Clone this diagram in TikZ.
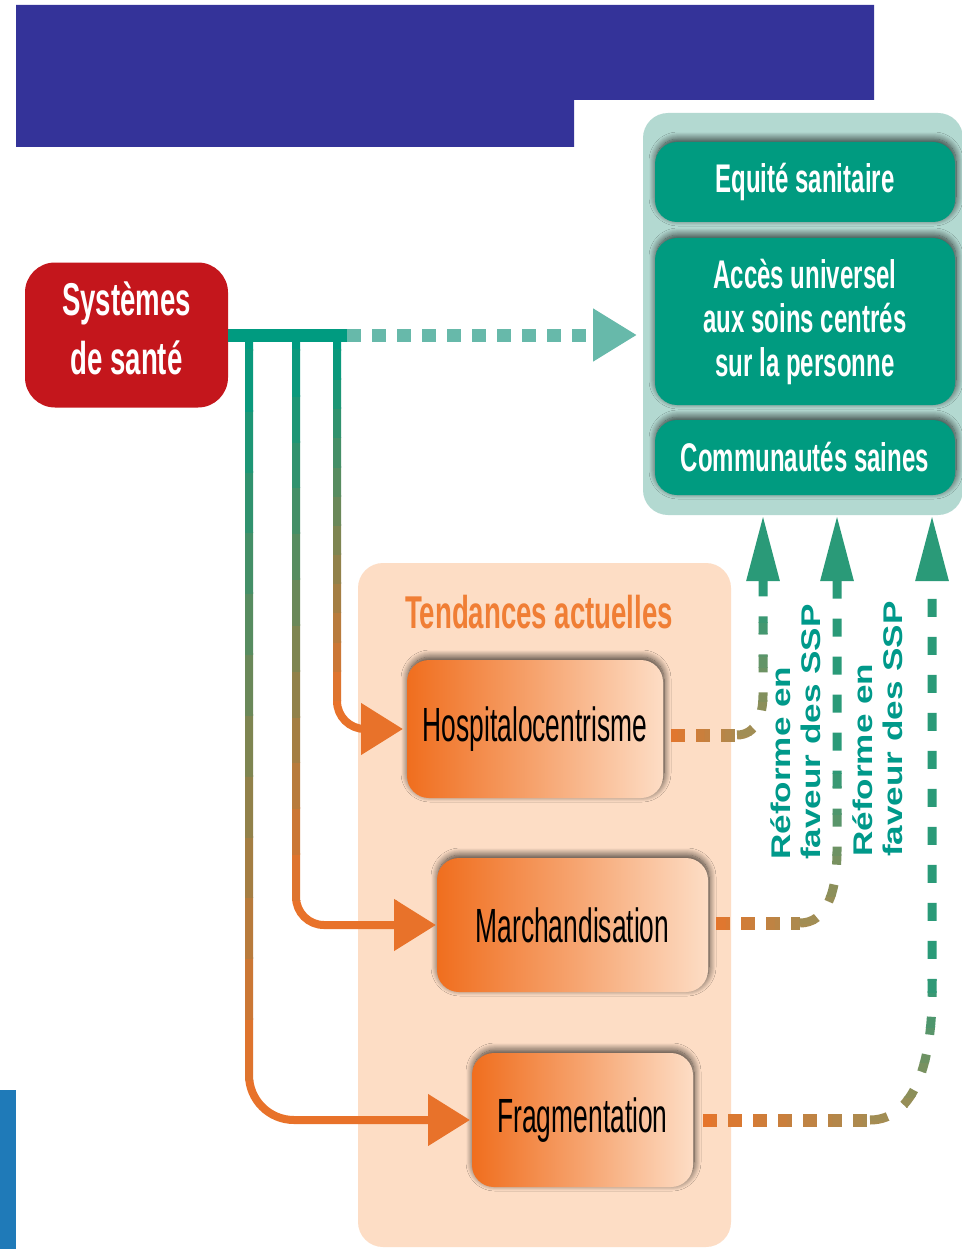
\documentclass[tikz,border=0pt]{standalone}
\usepackage{fontspec}
\setmainfont{Liberation Sans}
\newfontfamily\condB{Liberation Sans}[FakeStretch=0.6]
\newfontfamily\condR{Liberation Sans}[FakeStretch=0.55]
\newfontfamily\wideB{Liberation Sans}[FakeStretch=1.3]
\usetikzlibrary{arrows.meta,shadows.blur}
\definecolor{blueTop}{HTML}{343399}
\definecolor{blueBar}{HTML}{1F7AB8}
\definecolor{redBox}{HTML}{C4161C}
\definecolor{tealDark}{HTML}{009B80}
\definecolor{tealLight}{HTML}{67B9AA}
\definecolor{tealPale}{HTML}{B3D9D1}
\definecolor{peach}{HTML}{FDDDC5}
\definecolor{titleOr}{HTML}{F07E35}
\definecolor{boxL}{HTML}{F06E1E}
\definecolor{boxM}{HTML}{F6A36E}
\definecolor{boxR}{HTML}{FDDDC5}
\definecolor{lineOr}{HTML}{E8722A}
\definecolor{dashOr}{HTML}{E8742A}
\definecolor{dashOl}{HTML}{A68C52}
\definecolor{dashGr}{HTML}{2A9A78}
\definecolor{reformTxt}{HTML}{00998A}
% gradient drawing of a path along x (#1 -> #2, colour #3 -> #4)
\newcommand\gradX[6]{%
  \begin{scope}\clip (-10,-10) rectangle (#1,1260);\draw[#5,draw=#3] #6;\end{scope}
  \begin{scope}\clip (#2,-10) rectangle (980,1260);\draw[#5,draw=#4] #6;\end{scope}
  \foreach \k in {0,...,11}{%
    \pgfmathsetmacro\ga{#1+(#2-#1)*\k/12}%
    \pgfmathsetmacro\gb{#1+(#2-#1)*(\k+1)/12}%
    \pgfmathsetmacro\gl{min(\ga,\gb)-0.4}%
    \pgfmathsetmacro\gh{max(\ga,\gb)+0.4}%
    \pgfmathsetmacro\pp{100-(\k+0.5)*100/12}%
    \begin{scope}\clip (\gl,-10) rectangle (\gh,1260);\draw[#5,draw=#3!\pp!#4] #6;\end{scope}}}
% gradient drawing of a path along y (#1 -> #2, colour #3 -> #4)
\newcommand\gradY[6]{%
  \begin{scope}\clip (-10,#1) rectangle (980,1260);\draw[#5,draw=#3] #6;\end{scope}
  \begin{scope}\clip (-10,-10) rectangle (980,#2);\draw[#5,draw=#4] #6;\end{scope}
  \foreach \k in {0,...,11}{%
    \pgfmathsetmacro\ga{#1+(#2-#1)*\k/12}%
    \pgfmathsetmacro\gb{#1+(#2-#1)*(\k+1)/12}%
    \pgfmathsetmacro\gl{min(\ga,\gb)-0.4}%
    \pgfmathsetmacro\gh{max(\ga,\gb)+0.4}%
    \pgfmathsetmacro\pp{100-(\k+0.5)*100/12}%
    \begin{scope}\clip (-10,\gl) rectangle (980,\gh);\draw[#5,draw=#3!\pp!#4] #6;\end{scope}}}
\begin{document}
\begin{tikzpicture}[x=1pt,y=-1pt,
  boxshadow/.style={blur shadow={shadow xshift=1pt,shadow yshift=3pt,shadow blur radius=7pt,shadow blur steps=14,shadow opacity=75}},
  greenbox/.style={fill=tealDark,rounded corners=22pt,minimum width=300pt,inner sep=0pt,outer sep=0pt,
    text=white,align=center,font=\condB\bfseries\fontsize{40}{44}\selectfont,boxshadow},
  trendbox/.style={rounded corners=22pt,left color=boxL,right color=boxR,middle color=boxM,
    inner sep=0pt,outer sep=0pt,text=black,font=\condR\fontsize{48}{50}\selectfont,boxshadow},
  sqdash/.style={line width=13pt,dash pattern=on 14pt off 11pt},
  lgdash/.style={line width=9pt,dash pattern=on 18pt off 20pt},
  uparrow/.style={-{Triangle[length=66pt,width=31pt]}},
  orconn/.style={line width=8pt,-{Triangle[length=42pt,width=50pt]}},
  reform/.style={rotate=90,anchor=west,align=left,inner sep=0pt,text=reformTxt,
    font=\wideB\bfseries\fontsize{27}{30}\selectfont}
]
\useasboundingbox (0,0) rectangle (961,1249);
\fill[white] (0,0) rectangle (961,1249);
% header and side bars
\fill[blueTop] (16,5) -- (874,5) -- (874,100) -- (574,100) -- (574,147) -- (16,147) -- cycle;
\fill[blueBar] (0,1090) rectangle (15.5,1249);
% goals block
\node[fill=tealPale,rounded corners=25pt,minimum width=320pt,minimum height=402pt,inner sep=0pt,outer sep=0pt] (goals) at (803,314) {};
\node[greenbox,minimum height=80pt] (eq) at (805,182) {Equité sanitaire};
\node[greenbox,minimum height=167pt] (acc) at (805,321.5) {Accès universel\\aux soins centrés\\sur la personne};
\node[greenbox,minimum height=75pt] (com) at (805,457.5) {Communautés saines};
% trends block
\node[fill=peach,rounded corners=25pt,minimum width=373pt,minimum height=684pt,inner sep=0pt,outer sep=0pt] (tend) at (544.5,905) {};
\node[anchor=base,inner sep=0pt,text=titleOr,font=\condB\bfseries\fontsize{46}{50}\selectfont] (ttl) at (539,628) {Tendances actuelles};
\node[trendbox,minimum width=256pt,minimum height=138pt] (hosp) at (535,729) {Hospitalocentrisme};
\node[trendbox,minimum width=271pt,minimum height=134pt] (march) at (572.5,925) {Marchandisation};
\node[trendbox,minimum width=221pt,minimum height=134pt] (frag) at (582.5,1120) {Fragmentation};
% health systems
\node[fill=redBox,rounded corners=30pt,minimum width=203pt,minimum height=145pt,inner sep=0pt,outer sep=0pt] (sys) at (126.5,335) {};
\node[inner sep=0pt,text=white,align=center,font=\condB\bfseries\fontsize{46}{59}\selectfont] (systxt) at (126.5,328) {Systèmes\\de santé};
% connectors from health systems to trends
\coordinate (c1) at (337,336);
\coordinate (c2) at (296,336);
\coordinate (c3) at (249,336);
\gradY{700}{350}{lineOr}{tealDark}{orconn,rounded corners=28pt,shorten >=4pt}{(c1) |- (hosp.west)}
\gradY{900}{350}{lineOr}{tealDark}{orconn,rounded corners=28pt,shorten >=1pt}{(c2) |- (march.west)}
\gradY{1080}{350}{lineOr}{tealDark}{orconn,rounded corners=45pt,shorten >=2pt}{(c3) |- (frag.west)}
% main line to goals
\coordinate (jend) at (347,335);
\draw[tealDark,line width=13pt] (sys.east) -- (jend);
\draw[tealLight,line width=13pt,dash pattern=on 14pt off 11pt,-{Triangle[length=44pt,width=50pt]},shorten >=6pt] (jend) -- (goals.west |- jend);
% reform connectors from trends to goals
\coordinate (h1) at (737,735);
\coordinate (h2) at (800,923);
\coordinate (h3) at (870,1120);
\gradX{665}{745}{dashOr}{dashOl}{sqdash}{([shift={(8,6)}]hosp.east) -- (h1)}
\gradX{710}{808}{dashOr}{dashOl}{sqdash}{([shift={(8,-2)}]march.east) -- (h2)}
\gradX{697}{878}{dashOr}{dashOl}{sqdash}{([shift={(10,0)}]frag.east) -- (h3)}
\gradY{735}{600}{dashOl}{dashGr}{lgdash,uparrow}{(h1) .. controls (755,735) and (763,717) .. (763,695) -- (763,0 |- goals.south)}
\gradY{923}{760}{dashOl}{dashGr}{lgdash,uparrow}{(h2) .. controls (825,923) and (837,895) .. (837,850) -- (837,0 |- goals.south)}
\gradY{1120}{980}{dashOl}{dashGr}{lgdash,uparrow}{(h3) .. controls (915,1120) and (932,1060) .. (932,995) -- (932,0 |- goals.south)}
% reform labels
\node[reform] (rf1) at (796,860) {Réforme en\\faveur des SSP};
\node[reform] (rf2) at (878,857) {Réforme en\\faveur des SSP};
\end{tikzpicture}
\end{document}
